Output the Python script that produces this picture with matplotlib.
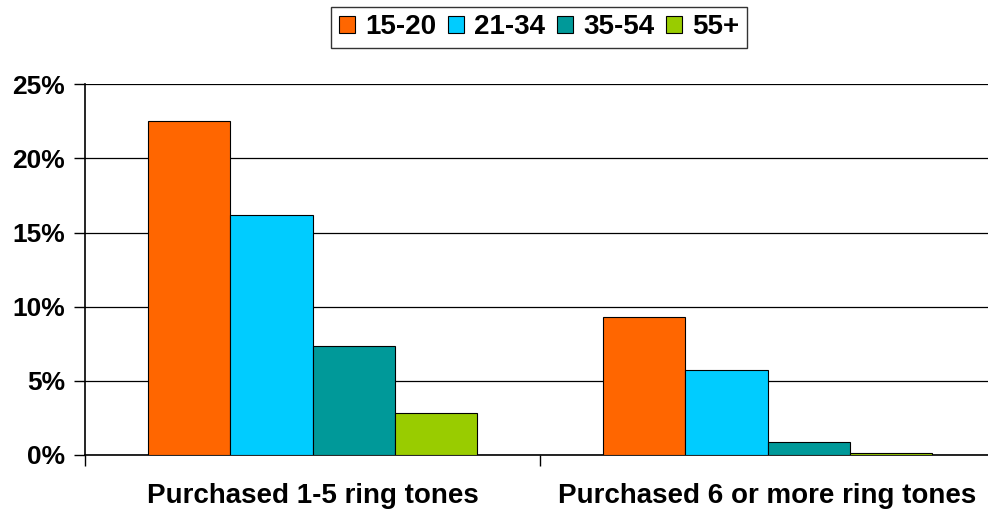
import matplotlib
matplotlib.use("Agg")
import matplotlib.pyplot as plt
import numpy as np
from matplotlib.ticker import FuncFormatter

categories = ["Purchased 1-5 ring tones", "Purchased 6 or more ring tones"]
series_names = ["15-20", "21-34", "35-54", "55+"]
values = {
    "15-20": [22.5, 9.3],
    "21-34": [16.2, 5.75],
    "35-54": [7.35, 0.88],
    "55+": [2.8, 0.16],
}
colors = ["#FF6600", "#00CCFF", "#009999", "#99CC00"]
yticks = [0, 5, 10, 15, 20, 25]

plt.rcParams['font.family'] = ['Liberation Sans', 'DejaVu Sans']
plt.rcParams['font.weight'] = 'bold'

W, H = 988, 513
fig = plt.figure(figsize=(W / 100, H / 100), dpi=100)
ax = fig.add_axes([85 / W, 58 / H, 910 / W, 370.7 / H])

x = np.arange(len(categories))
bw = 0.18125
for i, name in enumerate(series_names):
    ax.bar(x + (i - 1.5) * bw, values[name], width=bw, color=colors[i],
           edgecolor='black', linewidth=0.8, label=name, zorder=3)

ax.set_xlim(-0.5, 1.5)
ax.set_ylim(0, 25)
ax.set_yticks(yticks)
ax.yaxis.set_major_formatter(FuncFormatter(lambda v, p: f"{int(v)}%"))
ax.grid(axis='y', color='black', linewidth=0.9, zorder=0)
ax.set_xticks([-0.5, 0.5, 1.5])
ax.set_xticklabels([])
ax.set_xticks(x, minor=True)
ax.set_xticklabels(categories, minor=True, fontsize=20, fontweight='bold')
ax.tick_params(axis='x', which='minor', length=0, pad=20.5)
ax.tick_params(axis='x', which='major', length=8, width=1, direction='out')
ax.tick_params(axis='y', length=8, width=1, labelsize=19, pad=6.5)
for lbl in ax.get_yticklabels():
    lbl.set_fontweight('bold')

for s in ['top', 'right']:
    ax.spines[s].set_visible(False)
ax.spines['left'].set_linewidth(1.2)
ax.spines['bottom'].set_linewidth(1.2)

leg = fig.legend(loc='center', bbox_to_anchor=(539 / W, 1 - 27.5 / H), ncol=4,
                 frameon=True, fancybox=False, edgecolor='black',
                 prop={'weight': 'bold', 'size': 20},
                 handlelength=0.58, handleheight=0.58, handletextpad=0.36,
                 columnspacing=0.42, borderpad=0.28)
leg.get_frame().set_linewidth(1.0)

fig.savefig("out.png", dpi=100)
